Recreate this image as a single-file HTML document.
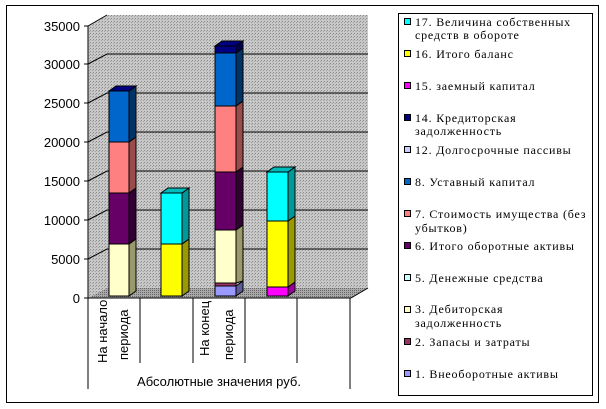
<!DOCTYPE html>
<html><head><meta charset="utf-8"><style>
html,body{margin:0;padding:0;background:#fff;width:606px;height:409px;overflow:hidden}
svg{display:block}
.y{font-family:"Liberation Sans",sans-serif;font-size:13px}
.l{font-family:"Liberation Serif","DejaVu Serif",serif;font-size:12px;letter-spacing:0.8px;fill:#000}
</style></head><body>
<svg width="606" height="409" xmlns="http://www.w3.org/2000/svg">
<defs>
<pattern id="dots" width="3" height="3" patternUnits="userSpaceOnUse"><rect width="3" height="3" fill="#c8c8c8"/><rect width="1" height="1" fill="#8a8a8a"/><rect x="2" y="1" width="1" height="1" fill="#a0a0a0"/></pattern>
<pattern id="fdots" width="2" height="2" patternUnits="userSpaceOnUse"><rect width="2" height="2" fill="#a8a8a8"/><rect width="1" height="1" fill="#686868"/></pattern>
</defs>
<rect x="6.5" y="5.5" width="592" height="397" fill="#fff" stroke="#000"/>
<polygon points="107,15 368,15 368,288 107,288" fill="url(#dots)"/>
<polygon points="88,26 107,15 107,288 88,298" fill="url(#dots)"/>
<polygon points="88,298 107,288 368,288 351,298" fill="url(#fdots)"/>
<g stroke="#000" stroke-width="1" fill="none">
<polyline points="88,64 107,54 368,54"/>
<polyline points="88,103 107,93 368,93"/>
<polyline points="88,142 107,132 368,132"/>
<polyline points="88,181 107,171 368,171"/>
<polyline points="88,220 107,210 368,210"/>
<polyline points="88,259 107,249 368,249"/>
<polyline points="88,26 107,15"/>
<line x1="88" y1="26" x2="88" y2="389"/>
<line x1="84" y1="26" x2="88" y2="26"/><line x1="84" y1="64" x2="88" y2="64"/><line x1="84" y1="103" x2="88" y2="103"/><line x1="84" y1="142" x2="88" y2="142"/><line x1="84" y1="181" x2="88" y2="181"/><line x1="84" y1="220" x2="88" y2="220"/><line x1="84" y1="259" x2="88" y2="259"/>
<line x1="84" y1="298" x2="351" y2="298"/>
<line x1="351" y1="298" x2="368" y2="288"/>
<line x1="140" y1="298" x2="140" y2="363"/>
<line x1="193" y1="298" x2="193" y2="363"/>
<line x1="245" y1="298" x2="245" y2="363"/>
<line x1="297" y1="298" x2="297" y2="363"/>
<line x1="350" y1="298" x2="350" y2="389"/>
</g>
<g class="y" text-anchor="end">
<text x="80" y="31">35000</text><text x="80" y="69">30000</text><text x="80" y="108">25000</text><text x="80" y="147">20000</text><text x="80" y="186">15000</text><text x="80" y="225">10000</text><text x="80" y="264">5000</text><text x="80" y="303">0</text>
</g>
<g stroke="#000" stroke-width="1">
<rect x="109" y="244" width="20" height="52" fill="#ffffcc"/>
<polygon points="129,244 136,239 136,291 129,296" fill="#99996a"/>
<rect x="109" y="193" width="20" height="51" fill="#660066"/>
<polygon points="129,193 136,188 136,239 129,244" fill="#330033"/>
<rect x="109" y="142" width="20" height="51" fill="#ff8080"/>
<polygon points="129,142 136,137 136,188 129,193" fill="#994c4c"/>
<rect x="109" y="91" width="20" height="51" fill="#0066cc"/>
<polygon points="129,91 136,86 136,137 129,142" fill="#003366"/>
<polygon points="109,91 116,86 136,86 129,91" fill="#000080"/>
<rect x="161" y="244" width="21" height="52" fill="#ffff00"/>
<polygon points="182,244 189,239 189,291 182,296" fill="#999900"/>
<rect x="161" y="193" width="21" height="51" fill="#00ffff"/>
<polygon points="182,193 189,188 189,239 182,244" fill="#009999"/>
<polygon points="161,193 168,188 189,188 182,193" fill="#00bbbb"/>
<rect x="215" y="286" width="21" height="10" fill="#9999ff"/>
<polygon points="236,286 243,281 243,291 236,296" fill="#5c5c99"/>
<rect x="215" y="283" width="21" height="3" fill="#993366"/>
<rect x="215" y="230" width="21" height="53" fill="#ffffcc"/>
<polygon points="236,230 243,225 243,281 236,283" fill="#99996a"/>
<rect x="215" y="172" width="21" height="58" fill="#660066"/>
<polygon points="236,172 243,167 243,225 236,230" fill="#330033"/>
<rect x="215" y="106" width="21" height="66" fill="#ff8080"/>
<polygon points="236,106 243,101 243,167 236,172" fill="#994c4c"/>
<rect x="215" y="53" width="21" height="53" fill="#0066cc"/>
<polygon points="236,53 243,48 243,101 236,106" fill="#003366"/>
<rect x="215" y="46" width="21" height="7" fill="#000080"/>
<polygon points="236,46 243,41 243,48 236,53" fill="#000050"/>
<polygon points="215,46 222,41 243,41 236,46" fill="#000080"/>
<rect x="267" y="287" width="21" height="9" fill="#ff00ff"/>
<polygon points="288,287 295,282 295,291 288,296" fill="#990099"/>
<rect x="267" y="221" width="21" height="66" fill="#ffff00"/>
<polygon points="288,221 295,216 295,282 288,287" fill="#999900"/>
<rect x="267" y="172" width="21" height="49" fill="#00ffff"/>
<polygon points="288,172 295,167 295,216 288,221" fill="#009999"/>
<polygon points="267,172 274,167 295,167 288,172" fill="#00bbbb"/>
</g>
<g class="y" font-size="12">
<text transform="translate(107,363) rotate(-90)">На начало</text>
<text transform="translate(128,360) rotate(-90)">периода</text>
<text transform="translate(209,356) rotate(-90)">На конец</text>
<text transform="translate(233,360) rotate(-90)">периода</text>
</g>
<text x="219" y="386" text-anchor="middle" class="y">Абсолютные значения руб.</text>
<rect x="398.5" y="13.5" width="194" height="382" fill="#fff" stroke="#000"/>
<g stroke="#000" stroke-width="1">
<rect x="404.5" y="18.5" width="6" height="6" fill="#00ffff"/>
<rect x="404.5" y="50.5" width="6" height="6" fill="#ffff00"/>
<rect x="404.5" y="82.5" width="6" height="6" fill="#ff00ff"/>
<rect x="404.5" y="114.5" width="6" height="6" fill="#000080"/>
<rect x="404.5" y="146.5" width="6" height="6" fill="#ccccff"/>
<rect x="404.5" y="178.5" width="6" height="6" fill="#0066cc"/>
<rect x="404.5" y="210.5" width="6" height="6" fill="#ff8080"/>
<rect x="404.5" y="242.5" width="6" height="6" fill="#660066"/>
<rect x="404.5" y="274.5" width="6" height="6" fill="#ccffff"/>
<rect x="404.5" y="306.5" width="6" height="6" fill="#ffffcc"/>
<rect x="404.5" y="338.5" width="6" height="6" fill="#993366"/>
<rect x="404.5" y="370.5" width="6" height="6" fill="#9999ff"/>
</g>
<g class="l">
<text x="415" y="26">17. Величина собственных</text><text x="415" y="39">средств в обороте</text>
<text x="415" y="58">16. Итого баланс</text>
<text x="415" y="90">15. заемный капитал</text>
<text x="415" y="122">14. Кредиторская</text><text x="415" y="135">задолженность</text>
<text x="415" y="154">12. Долгосрочные пассивы</text>
<text x="415" y="186">8. Уставный капитал</text>
<text x="415" y="218">7. Стоимость имущества (без</text><text x="415" y="232">убытков)</text>
<text x="415" y="250">6. Итого оборотные активы</text>
<text x="415" y="282">5. Денежные средства</text>
<text x="415" y="313">3. Дебиторская</text><text x="415" y="327">задолженность</text>
<text x="415" y="346">2. Запасы и затраты</text>
<text x="415" y="378">1. Внеоборотные активы</text>
</g>
</svg>
</body></html>
